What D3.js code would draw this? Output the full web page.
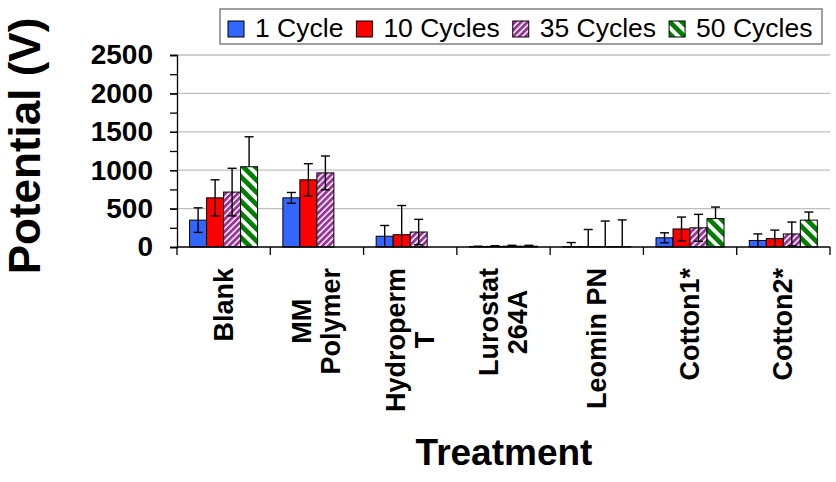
<!DOCTYPE html>
<html>
<head>
<meta charset="utf-8">
<script src="https://cdn.jsdelivr.net/npm/d3@7/dist/d3.min.js"></script>
<style>
  html, body { margin: 0; padding: 0; background: #fff; }
  text { font-family: "Liberation Sans", Arial, sans-serif; }
</style>
</head>
<body>
<div id="chart"></div>
<script>
// chart data
var categories = ['Blank', 'MM Polymer', 'Hydroperm T', 'Lurostat 264A', 'Leomin PN', 'Cotton1*', 'Cotton2*'];
var categoryLines = [['Blank'], ['MM', 'Polymer'], ['Hydroperm', 'T'], ['Lurostat', '264A'], ['Leomin PN'], ['Cotton1*'], ['Cotton2*']];
var seriesNames = ['1 Cycle', '10 Cycles', '35 Cycles', '50 Cycles'];
var cycle1 = [350, 640, 140, 5, 3, 120, 85];
var cycle1Err = [160, 70, 140, 5, 55, 65, 85];
var cycle10 = [640, 875, 160, 8, 3, 235, 110];
var cycle10Err = [235, 210, 380, 8, 225, 155, 110];
var cycle35 = [715, 965, 195, 10, 3, 250, 170];
var cycle35Err = [310, 220, 165, 12, 335, 175, 155];
var cycle50 = [1045, 0, 0, 10, 3, 370, 350];
var cycle50Err = [390, 0, 0, 12, 350, 150, 105];
var yTicks = [0, 500, 1000, 1500, 2000, 2500];

var values = [cycle1, cycle10, cycle35, cycle50];
var errors = [cycle1Err, cycle10Err, cycle35Err, cycle50Err];
var plusOnly = [false, false, false, true];
var fills = ['#3366ff', '#ff0000', 'url(#pat35)', 'url(#pat50)'];

var W = 836, H = 482;
var plot = {left: 177, right: 830, top: 55, bottom: 247};

var svg = d3.select('#chart').append('svg')
  .attr('width', W).attr('height', H);

// hatch patterns
var defs = svg.append('defs');
var makeStripes = function(id, color, size, band, angle) {
  var p = defs.append('pattern')
    .attr('id', id)
    .attr('patternUnits', 'userSpaceOnUse')
    .attr('width', size).attr('height', size)
    .attr('patternTransform', 'rotate(' + angle + ')');
  p.append('rect').attr('width', size).attr('height', size).attr('fill', '#fff');
  p.append('rect').attr('width', band).attr('height', size).attr('fill', color);
};
makeStripes('pat35', '#993399', 4.4, 2.9, 45);
makeStripes('pat50', '#008000', 8.6, 4.8, -45);

var x = d3.scaleBand().domain(categories).range([plot.left, plot.right]).padding(0);
var xs = d3.scaleBand().domain(seriesNames).range([12.6, 80.6]).padding(0);
var y = d3.scaleLinear().domain([0, 2500]).range([plot.bottom, plot.top]);

// gridlines
svg.append('g').selectAll('line').data(yTicks.slice(1)).enter()
  .append('line')
  .attr('x1', plot.left).attr('x2', plot.right)
  .attr('y1', function(d) { return y(d); })
  .attr('y2', function(d) { return y(d); })
  .attr('stroke', '#c0c0c0').attr('stroke-width', 1.3);

// y axis: minor ticks then labelled major ticks
var yAxis = svg.append('g').attr('transform', 'translate(' + plot.left + ',0)');
yAxis.call(d3.axisLeft(y).tickValues(d3.range(0, 2501, 250)).tickSize(7).tickFormat(''));
var yLab = svg.append('g').attr('transform', 'translate(' + plot.left + ',0)')
  .call(d3.axisLeft(y).tickValues(yTicks).tickSize(7).tickPadding(17).tickFormat(d3.format('d')));
yLab.select('.domain').remove();
yAxis.selectAll('line, path').attr('stroke', '#000').attr('stroke-width', 1.3);
yLab.selectAll('line').attr('stroke', '#000').attr('stroke-width', 1.3);
yLab.selectAll('text')
  .style('font-family', '"Liberation Sans", Arial, sans-serif')
  .style('font-size', '28px').style('font-weight', 'bold').attr('fill', '#000');

// bars
var rows = [];
values.forEach(function(vals, s) {
  vals.forEach(function(v, i) {
    rows.push({cat: categories[i], s: s, v: v, e: errors[s][i]});
  });
});

var bars = svg.append('g');
bars.selectAll('rect').data(rows.filter(function(d) { return d.v > 0; })).enter()
  .append('rect')
  .attr('x', function(d) { return x(d.cat) + xs(seriesNames[d.s]); })
  .attr('y', function(d) { return y(d.v); })
  .attr('width', xs.bandwidth())
  .attr('height', function(d) { return y(0) - y(d.v); })
  .attr('fill', function(d) { return fills[d.s]; })
  .attr('stroke', '#000').attr('stroke-width', 1);

// error bars
var capW = 4.5;
var eb = svg.append('g').attr('stroke', '#000').attr('stroke-width', 1.4);
rows.filter(function(d) { return d.v > 0 && d.e > 0; }).forEach(function(d) {
  var cx = x(d.cat) + xs(seriesNames[d.s]) + xs.bandwidth() / 2;
  var hi = d.v + d.e;
  var lo = plusOnly[d.s] ? d.v : Math.max(0, d.v - d.e);
  eb.append('line').attr('x1', cx).attr('x2', cx).attr('y1', y(hi)).attr('y2', y(lo));
  eb.append('line').attr('x1', cx - capW).attr('x2', cx + capW).attr('y1', y(hi)).attr('y2', y(hi));
  if (!plusOnly[d.s] && d.v - d.e > 0) {
    eb.append('line').attr('x1', cx - capW).attr('x2', cx + capW).attr('y1', y(lo)).attr('y2', y(lo));
  }
});

// x axis line with category separators
var xAxis = svg.append('g');
xAxis.append('line')
  .attr('x1', plot.left).attr('x2', plot.right)
  .attr('y1', plot.bottom).attr('y2', plot.bottom)
  .attr('stroke', '#000').attr('stroke-width', 1.3);
xAxis.selectAll('.sep').data(d3.range(categories.length + 1)).enter()
  .append('line')
  .attr('x1', function(i) { return plot.left + i * x.step(); })
  .attr('x2', function(i) { return plot.left + i * x.step(); })
  .attr('y1', plot.bottom).attr('y2', plot.bottom + 8)
  .attr('stroke', '#000').attr('stroke-width', 1.3);

// rotated category labels
var lineH = 29;
categories.forEach(function(c, i) {
  var lines = categoryLines[i];
  var g = svg.append('g')
    .attr('transform', 'translate(' + (x(c) + x.bandwidth() / 2) + ',268) rotate(-90)');
  var texts = g.selectAll('text').data(lines).enter()
    .append('text')
    .attr('text-anchor', 'middle')
    .style('font-size', '27px').style('font-weight', 'bold')
    .attr('y', function(d, j) { return (j - (lines.length - 1) / 2) * lineH + 9; })
    .text(function(d) { return d; });
  var longest = 0;
  texts.each(function() { longest = Math.max(longest, this.getComputedTextLength()); });
  texts.attr('x', -longest / 2);
});

// axis titles
svg.append('text')
  .attr('transform', 'translate(40,146) rotate(-90)')
  .attr('text-anchor', 'middle')
  .style('font-size', '44px').style('font-weight', 'bold')
  .text('Potential (V)');

svg.append('text')
  .attr('x', 504).attr('y', 465)
  .attr('text-anchor', 'middle')
  .style('font-size', '37px').style('font-weight', 'bold')
  .text('Treatment');

// legend
var legend = svg.append('g');
legend.append('rect')
  .attr('x', 220).attr('y', 9).attr('width', 602).attr('height', 35)
  .attr('fill', '#fff').attr('stroke', '#808080').attr('stroke-width', 1.5);
var lx = 228;
seriesNames.forEach(function(name, s) {
  legend.append('rect')
    .attr('x', lx).attr('y', 21).attr('width', 16).attr('height', 16)
    .attr('fill', fills[s]).attr('stroke', '#000').attr('stroke-width', 1);
  var t = legend.append('text')
    .attr('x', lx + 27).attr('y', 37)
    .style('font-size', '26.5px')
    .text(name);
  lx += 27 + t.node().getComputedTextLength() + 13;
});
</script>
</body>
</html>
